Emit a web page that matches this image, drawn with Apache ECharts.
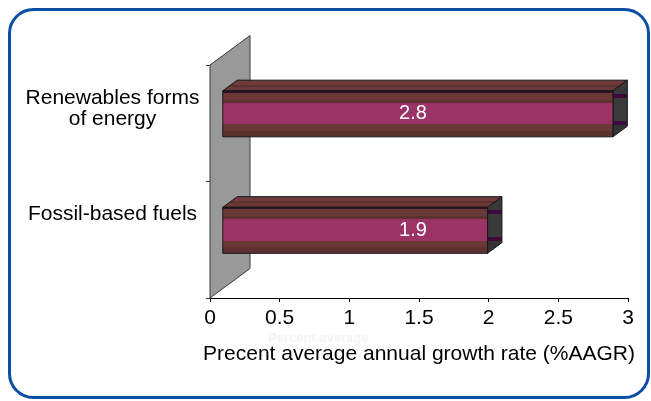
<!DOCTYPE html>
<html>
<head>
<meta charset="utf-8">
<script src="https://cdn.jsdelivr.net/npm/echarts@6/dist/echarts.min.js"></script>
<style>
  html, body { margin: 0; padding: 0; background: #ffffff; }
  #chart { width: 651px; height: 401px; }
</style>
</head>
<body>
<div id="chart"></div>
<script>
// Growth rates by energy source
const categories = ['Fossil-based fuels', 'Renewables forms\nof energy'];
const growthRates = [1.9, 2.8];
const valueLabels = ['1.9', '2.8'];
const axisMin = 0, axisMax = 3, axisStep = 0.5;
const axisTitle = 'Precent average annual growth rate (%AAGR)';

const FONT = '"Liberation Sans", Arial, Helvetica, sans-serif';
const DEPTH = [40, -29.5];          // full depth of the 3-D plot, in px
const BAR_FRONT = 0.32;             // bar front face, as share of depth
const BAR_BACK = 0.68;              // bar back face, as share of depth
const BAR_THICK = 0.395;            // bar height, as share of category band

// Hard-edged colour bands for a gradient: [from, to, colour]
function bands(list) {
  const stops = [];
  list.forEach(([a, b, c]) => {
    stops.push({ offset: a, color: c }, { offset: b, color: c });
  });
  return stops;
}
const frontFill = () => new echarts.graphic.LinearGradient(0, 0, 0, 1, bands([
  [0.00, 0.05, '#2b1428'],
  [0.05, 0.20, '#6b3838'],
  [0.20, 0.26, '#5e3131'],
  [0.26, 0.72, '#9b3366'],
  [0.72, 0.86, '#6b3838'],
  [0.86, 1.00, '#5e3131']
]));
const topFill = () => new echarts.graphic.LinearGradient(0, 0, 0, 1, bands([
  [0.00, 0.45, '#6e3a3a'],
  [0.45, 0.62, '#5c3030'],
  [0.62, 1.00, '#6b3838']
]));
const sideFill = () => new echarts.graphic.LinearGradient(0, 0, 0, 1, bands([
  [0.00, 0.24, '#383838'],
  [0.24, 0.31, '#3d0a3d'],
  [0.31, 0.71, '#3a3a3a'],
  [0.71, 0.78, '#3d0a3d'],
  [0.78, 1.00, '#333333']
]));

const chart = echarts.init(document.getElementById('chart'), null, { renderer: 'canvas' });

function renderWall(params) {
  const cs = params.coordSys;
  const x = cs.x, y = cs.y, h = cs.height;
  return {
    type: 'polygon',
    shape: { points: [
      [x, y], [x + DEPTH[0], y + DEPTH[1]],
      [x + DEPTH[0], y + h + DEPTH[1]], [x, y + h]
    ] },
    style: { fill: '#999999', stroke: '#3a3a3a', lineWidth: 1 }
  };
}

function renderBar(params, api) {
  const cs = params.coordSys;
  const value = api.value(0);
  const cat = api.value(1);
  const start = api.coord([axisMin, cat]);
  const end = api.coord([value, cat]);
  const band = api.size([0, 1])[1];
  const h = band * BAR_THICK;
  const fx = DEPTH[0] * BAR_FRONT, fy = DEPTH[1] * BAR_FRONT;
  const bx = DEPTH[0] * (BAR_BACK - BAR_FRONT), by = DEPTH[1] * (BAR_BACK - BAR_FRONT);
  const xL = start[0] + fx, xR = end[0] + fx;
  const yC = start[1] + fy;
  const yT = yC - h / 2, yB = yC + h / 2;
  const edge = { stroke: '#161616', lineWidth: 1 };
  return {
    type: 'group',
    children: [
      { type: 'polygon',
        shape: { points: [[xL, yT], [xR, yT], [xR + bx, yT + by], [xL + bx, yT + by]] },
        style: Object.assign({ fill: topFill() }, edge) },
      { type: 'polygon',
        shape: { points: [[xR, yT], [xR + bx, yT + by], [xR + bx, yB + by], [xR, yB]] },
        style: Object.assign({ fill: sideFill() }, edge) },
      { type: 'rect',
        shape: { x: xL, y: yT, width: xR - xL, height: h },
        style: Object.assign({ fill: frontFill() }, edge) },
      { type: 'text',
        style: {
          text: valueLabels[params.dataIndex],
          x: cs.x + cs.width / 2 - 6, y: yC,
          align: 'center', verticalAlign: 'middle',
          fill: '#ffffff', fontSize: 20, fontFamily: FONT
        } },
      { type: 'text',
        style: {
          text: categories[cat],
          x: cs.x - 97.5, y: start[1] - 36,
          align: 'center', verticalAlign: 'top', lineHeight: 21,
          fill: '#000000', fontSize: 21, fontFamily: FONT
        } }
    ]
  };
}

chart.setOption({
  backgroundColor: '#ffffff',
  animation: false,
  textStyle: { fontFamily: FONT },
  graphic: [
    { type: 'rect', z: 0,
      shape: { x: 9.5, y: 9.5, width: 639, height: 388, r: 24 },
      style: { fill: 'none', stroke: '#0b4ea3', lineWidth: 3 } },
    { type: 'text', z: 0, left: 268, top: 332,
      style: { text: 'Percent average', fill: '#f4f4f4', fontSize: 13,
               fontWeight: 'bold', fontFamily: FONT } }
  ],
  grid: { left: 210, right: 23, top: 65, bottom: 103, containLabel: false },
  xAxis: {
    type: 'value',
    min: axisMin, max: axisMax, interval: axisStep,
    name: axisTitle,
    nameLocation: 'middle',
    nameGap: 46,
    nameTextStyle: { color: '#000000', fontSize: 21, fontFamily: FONT },
    axisLine: { show: true, lineStyle: { color: '#000000', width: 1 } },
    axisTick: { show: true, length: 4, lineStyle: { color: '#000000' } },
    axisLabel: { color: '#000000', fontSize: 21, margin: 10, fontFamily: FONT },
    splitLine: { show: false }
  },
  yAxis: {
    type: 'category',
    data: categories,
    axisLine: { show: true, lineStyle: { color: '#3a3a3a', width: 1 } },
    axisTick: { show: true, length: 4, lineStyle: { color: '#3a3a3a' } },
    axisLabel: { show: false },
    splitLine: { show: false }
  },
  series: [
    { type: 'custom', name: 'wall', z: 1, silent: true,
      data: [[0, 0]], encode: { x: 0, y: 1 },
      renderItem: renderWall },
    { type: 'custom', name: 'Growth rate', z: 2,
      data: growthRates.map((v, i) => [v, i]),
      encode: { x: 0, y: 1 },
      renderItem: renderBar }
  ]
});
</script>
</body>
</html>
